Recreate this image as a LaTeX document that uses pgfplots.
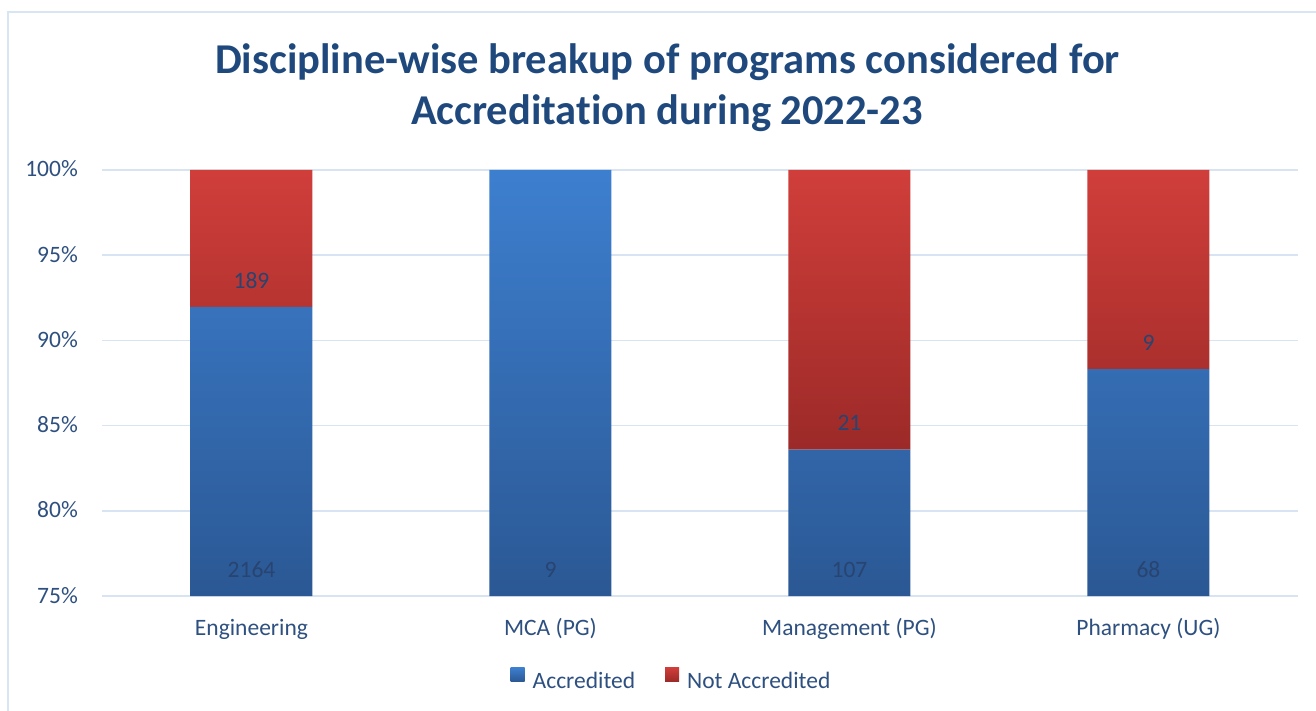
\documentclass[border=0pt]{standalone}
\usepackage{pgfplots}
\pgfplotsset{compat=1.18}
\usepackage{fontspec}
\setmainfont{Carlito}[Ligatures=NoCommon]
\definecolor{titlec}{RGB}{31,73,125}
\definecolor{tickc}{RGB}{46,80,128}
\definecolor{labc}{RGB}{40,68,112}
\definecolor{gridc}{RGB}{217,228,242}
\definecolor{framec}{RGB}{216,229,243}
\definecolor{blueT}{RGB}{61,127,207}
\definecolor{blueB}{RGB}{43,88,148}
\definecolor{redT}{RGB}{208,62,58}
\definecolor{redB}{RGB}{156,42,40}
\newcommand{\lf}{\fontsize{23.5bp}{28bp}\selectfont}
\begin{document}
\begin{tikzpicture}
\begin{axis}[
  at={(0,0)}, anchor=south west,
  scale only axis, width=1196bp, height=426bp,
  xmin=-0.5, xmax=3.5, ymin=75, ymax=100,
  ybar stacked, bar width=122bp,
  xtick={0,1,2,3},
  xticklabels={Engineering, MCA (PG), Management (PG), Pharmacy (UG)},
  ytick={75,80,85,90,95,100},
  yticklabels={75\%,80\%,85\%,90\%,95\%,100\%},
  ymajorgrids, grid style={gridc, line width=1.5bp},
  axis line style={draw=none}, major tick length=0pt,
  tick label style={font=\lf, text=tickc, inner sep=0pt},
  yticklabel style={anchor=base east, xshift=-24bp, yshift=-7bp},
  xticklabel style={anchor=base, yshift=-39bp},
  legend style={at={(axis description cs:0.4762,-0.197)}, anchor=center,
    draw=none, fill=none, font=\lf, text=tickc, inner sep=0pt,
    legend columns=2,
    /tikz/every odd column/.append style={column sep=6bp},
    /tikz/every even column/.append style={column sep=28bp}},
  legend cell align=left,
]
\addplot[draw=none, top color=blueT, bottom color=blueB,
  legend image code/.code={\shade[top color=blueT, bottom color=blueB] (0bp,0bp) rectangle (14bp,14bp);}]
  coordinates {(0,91.968) (1,100) (2,83.594) (3,88.312)};
\addlegendentry{Accredited}
\addplot[draw=none, top color=redT, bottom color=redB,
  legend image code/.code={\shade[top color=redT, bottom color=redB] (0bp,0bp) rectangle (14bp,14bp);}]
  coordinates {(0,8.032) (1,0) (2,16.406) (3,11.688)};
\addlegendentry{Not Accredited}
\end{axis}
\begin{axis}[
  at={(0,0)}, anchor=south west,
  scale only axis, width=1196bp, height=426bp,
  xmin=-0.5, xmax=3.5, ymin=75, ymax=100,
  hide axis, clip=false,
  nodes near coords, point meta=explicit symbolic,
  every node near coord/.style={anchor=center, yshift=26.5bp, font=\lf, text=labc, inner sep=0pt},
]
\addplot[only marks, mark=none] coordinates {(0,75) [2164] (1,75) [9] (2,75) [107] (3,75) [68]};
\addplot[only marks, mark=none] coordinates {(0,91.968) [189] (2,83.594) [21] (3,88.312) [9]};
\end{axis}
\node[anchor=base, text=titlec, font=\fontsize{42.5bp}{50bp}\selectfont\bfseries] at (565.5bp,522.7bp) {Discipline-wise breakup of programs considered for};
\node[anchor=base, text=titlec, font=\fontsize{42.5bp}{50bp}\selectfont\bfseries] at (565bp,471bp) {Accreditation during 2022-23};
\pgfresetboundingbox
\path[use as bounding box] (-102bp,-115bp) rectangle (1214bp,596bp);
\draw[framec, line width=2bp] (-93.5bp,-120bp) -- (-93.5bp,583.5bp) -- (1220bp,583.5bp);
\end{tikzpicture}
\end{document}
